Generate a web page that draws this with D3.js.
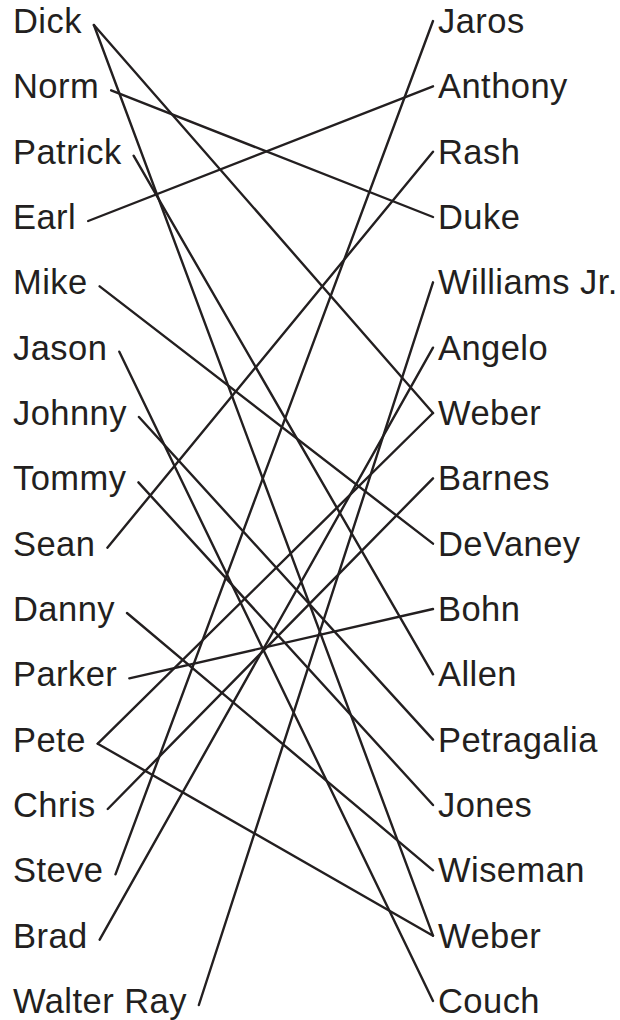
<!DOCTYPE html>
<html>
<head>
<meta charset="utf-8">
<script src="https://cdn.jsdelivr.net/npm/d3@7"></script>
<style>
  html, body { margin: 0; padding: 0; background: #fff; }
  svg { display: block; }
  text { font-family: "Liberation Sans", Arial, Helvetica, sans-serif; fill: #231f20; }
</style>
</head>
<body>
<svg id="chart" width="620" height="1020"></svg>
<script>
const firstNames = ["Dick", "Norm", "Patrick", "Earl", "Mike", "Jason", "Johnny", "Tommy",
  "Sean", "Danny", "Parker", "Pete", "Chris", "Steve", "Brad", "Walter Ray"];
const lastNames = ["Jaros", "Anthony", "Rash", "Duke", "Williams Jr.", "Angelo", "Weber", "Barnes",
  "DeVaney", "Bohn", "Allen", "Petragalia", "Jones", "Wiseman", "Weber", "Couch"];
// matches: index into firstNames -> index into lastNames
const linkFrom = [0, 0, 1, 2, 3, 4, 5, 6, 7, 8, 9, 10, 11, 11, 12, 13, 14, 15];
const linkTo   = [6, 14, 3, 10, 1, 8, 15, 11, 12, 2, 13, 9, 6, 14, 7, 0, 5, 4];

const fontSize = 34.5;
const leftX = 13, rightX = 438;
const gapL = 12, gapR = 5;
const svg = d3.select("#chart");

const y = d3.scalePoint().domain(d3.range(firstNames.length)).range([33, 1013]);

const left = svg.append("g").selectAll("text").data(firstNames).join("text")
  .attr("x", leftX).attr("y", (d, i) => y(i))
  .attr("font-size", fontSize).attr("letter-spacing", 0.45).text(d => d);

svg.append("g").selectAll("text").data(lastNames).join("text")
  .attr("x", rightX).attr("y", (d, i) => y(i))
  .attr("font-size", fontSize).attr("letter-spacing", 0.45).text(d => d);

const widths = [];
left.each(function(d, i) { widths[i] = this.getComputedTextLength(); });

const links = linkFrom.map((f, i) => ({ f, t: linkTo[i] }));
svg.append("g").selectAll("line").data(links).join("line")
  .attr("x1", d => leftX + widths[d.f] + gapL)
  .attr("y1", d => y(d.f) - 8)
  .attr("x2", rightX - gapR)
  .attr("y2", d => y(d.t) - 12)
  .attr("stroke", "#231f20")
  .attr("stroke-width", 2.4)
  .attr("stroke-linecap", "round");
</script>
</body>
</html>
